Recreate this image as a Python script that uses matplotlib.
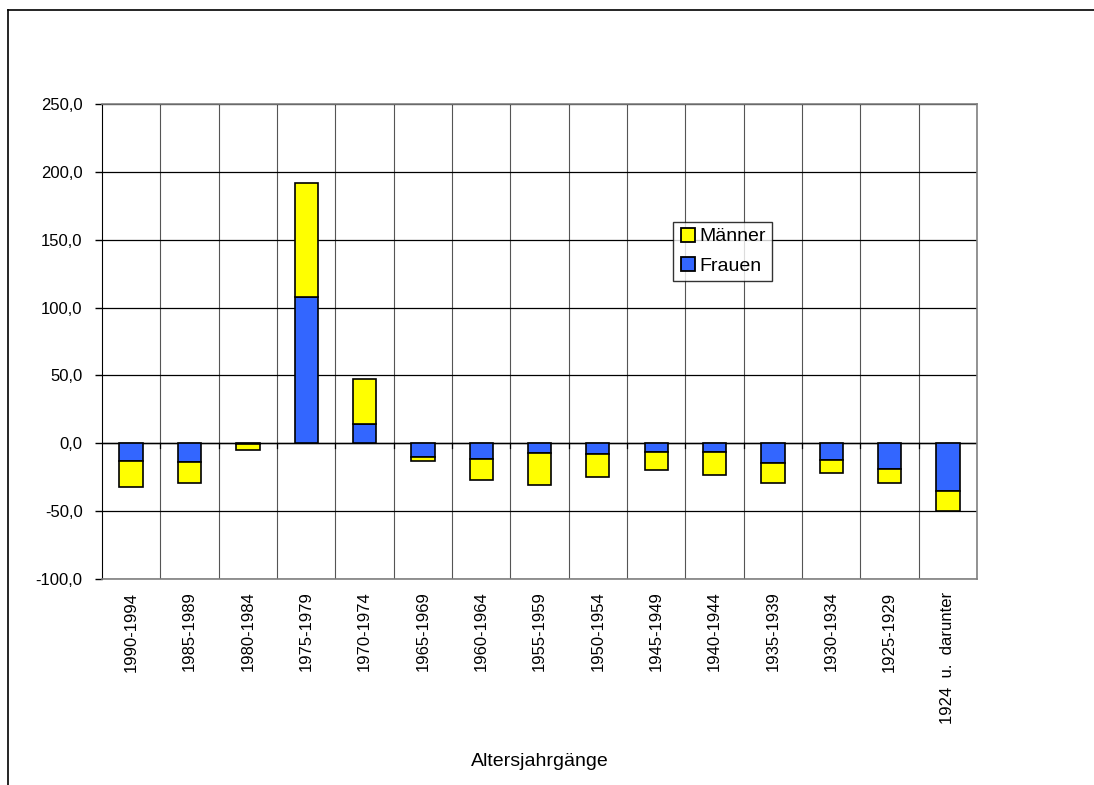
import matplotlib
matplotlib.use("Agg")
import matplotlib.pyplot as plt
import numpy as np
from matplotlib.lines import Line2D
from matplotlib.ticker import FuncFormatter, MultipleLocator

plt.rcParams["font.family"] = ["Liberation Sans", "DejaVu Sans"]

categories = ["1990-1994", "1985-1989", "1980-1984", "1975-1979", "1970-1974",
              "1965-1969", "1960-1964", "1955-1959", "1950-1954", "1945-1949",
              "1940-1944", "1935-1939", "1930-1934", "1925-1929", "1924  u.  darunter"]
frauen = [-13.4, -14.1, -0.3, 107.5, 14.5, -10.2, -11.4, -7.5, -8.0, -6.7,
          -6.5, -14.4, -12.2, -19.3, -35.5]
maenner = [-18.9, -15.5, -4.5, 84.2, 33.0, -3.2, -16.0, -23.3, -16.7, -13.3,
           -17.2, -15.2, -9.8, -10.1, -14.2]

YELLOW = "#FFFF00"
BLUE = "#3366FF"

fig = plt.figure(figsize=(10.94, 7.85), dpi=100)
ax = fig.add_axes([102 / 1094, 1 - 579 / 785, 875 / 1094, 475 / 785])

x = np.arange(len(categories))
ax.bar(x, frauen, width=0.4, color=BLUE, edgecolor="black", linewidth=1.2, zorder=3)
ax.bar(x, maenner, width=0.4, bottom=frauen, color=YELLOW, edgecolor="black",
       linewidth=1.2, zorder=3)

ax.set_xlim(-0.5, len(categories) - 0.5)
ax.set_ylim(-100, 250)
ax.yaxis.set_major_locator(MultipleLocator(50))
ax.yaxis.set_major_formatter(FuncFormatter(lambda v, p: f"{v:.1f}".replace(".", ",")))
ax.tick_params(axis="y", direction="out", length=5, width=1, labelsize=12, pad=9)
ax.grid(axis="y", color="black", linewidth=0.9, zorder=1)

# vertical separators at category boundaries, small ticks on the zero line
for b in np.arange(-0.5, len(categories), 1.0)[1:]:
    ax.axvline(b, color="#555555", linewidth=0.8, zorder=1)
    ax.plot([b, b], [0, -3.5], color="black", linewidth=0.9, zorder=2)
ax.axhline(0, color="black", linewidth=1.0, zorder=2)

ax.set_xticks(x)
ax.set_xticklabels(categories, rotation=90, fontsize=12, va="top")
ax.tick_params(axis="x", length=0, pad=9)
ax.set_xlabel("Altersjahrgänge", fontsize=14, labelpad=21)

for side in ["top", "right", "bottom"]:
    ax.spines[side].set_color("#808080")
    ax.spines[side].set_linewidth(1.2)
ax.spines["left"].set_color("black")

handles = [
    Line2D([], [], marker="s", linestyle="none", markersize=10,
           markerfacecolor=YELLOW, markeredgecolor="black", markeredgewidth=1.3),
    Line2D([], [], marker="s", linestyle="none", markersize=10,
           markerfacecolor=BLUE, markeredgecolor="black", markeredgewidth=1.3),
]
leg = ax.legend(handles, ["Männer", "Frauen"], loc="upper left",
                bbox_to_anchor=((673 - 102) / 875, (579 - 222) / 475),
                frameon=True, fancybox=False, fontsize=14, handletextpad=0.15,
                handlelength=0.9, borderpad=0.3, labelspacing=0.6, borderaxespad=0)
leg.get_frame().set_edgecolor("black")
leg.get_frame().set_linewidth(1.0)

# outer chart frame
fig.add_artist(Line2D([8 / 1094, 8 / 1094], [0, 1 - 10 / 785], color="black",
                      linewidth=1.2, transform=fig.transFigure))
fig.add_artist(Line2D([8 / 1094, 1], [1 - 10 / 785, 1 - 10 / 785], color="black",
                      linewidth=1.2, transform=fig.transFigure))

fig.savefig("out.png", dpi=100)
